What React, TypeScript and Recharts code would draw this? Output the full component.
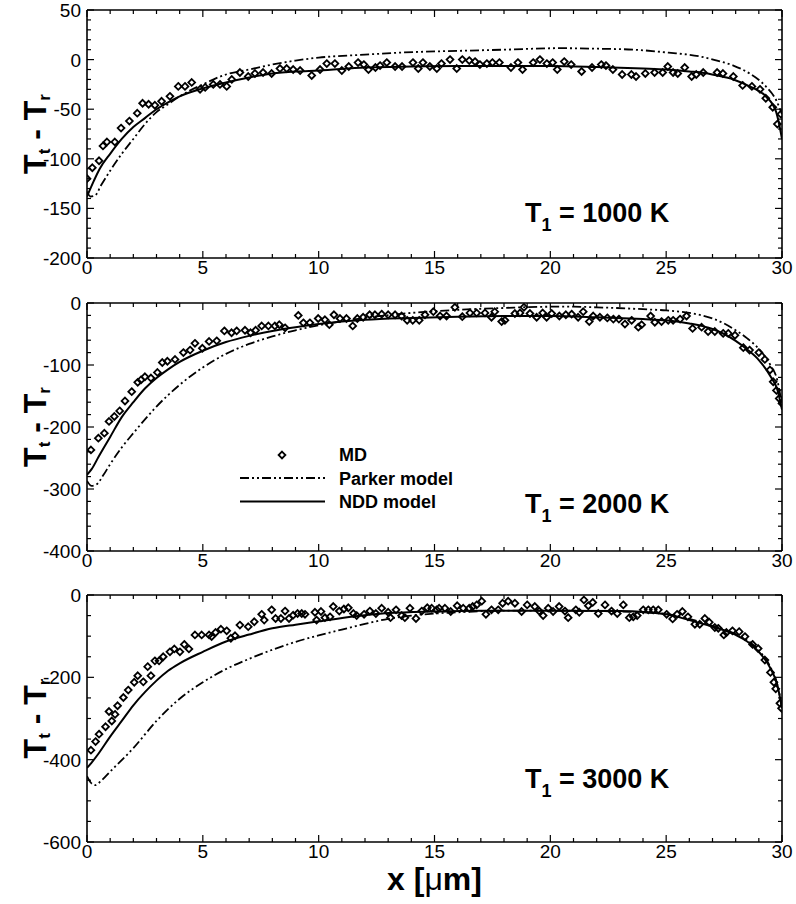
import React from 'react'
import { ComposedChart, Line, Scatter, XAxis, YAxis, ReferenceLine, Customized } from 'recharts'

type Pt = [number, number]

const FONT = "'Liberation Sans', Arial, Helvetica, sans-serif"
const PARKER_DASH = '9 3 2 3 2 3'

// x axis (micrometres)
const xMajor = [0, 5, 10, 15, 20, 25, 30]
const xTicks = [0, 1, 2, 3, 4, 5, 6, 7, 8, 9, 10, 11, 12, 13, 14, 15, 16, 17, 18, 19, 20, 21, 22, 23, 24, 25, 26, 27, 28, 29, 30]

// y axes
const yMajor1000 = [-200, -150, -100, -50, 0, 50]
const yTicks1000 = [-200, -190, -180, -170, -160, -150, -140, -130, -120, -110, -100, -90, -80, -70, -60, -50, -40, -30, -20, -10, 0, 10, 20, 30, 40, 50]
const yMajor2000 = [-400, -300, -200, -100, 0]
const yTicks2000 = [-400, -380, -360, -340, -320, -300, -280, -260, -240, -220, -200, -180, -160, -140, -120, -100, -80, -60, -40, -20, 0]
const yMajor3000 = [-600, -400, -200, 0]
const yTicks3000 = [-600, -550, -500, -450, -400, -350, -300, -250, -200, -150, -100, -50, 0]

// T1 = 1000 K
const md1000: Pt[] = [
  [0, -120], [0.23, -109], [0.52, -102], [0.69, -87], [0.86, -83], [1.2, -83], [1.47, -69], [1.83, -62], [2.17, -54], [2.4, -44],
  [2.66, -45], [2.93, -46], [3.22, -42], [3.58, -37], [3.94, -27], [4.23, -27], [4.52, -23], [4.88, -30], [5.1, -28], [5.45, -25],
  [5.74, -25], [6.03, -27], [6.25, -20], [6.6, -13], [6.96, -17], [7.25, -14], [7.6, -13], [7.97, -14], [8.33, -9], [8.62, -9],
  [8.9, -10], [9.2, -11], [9.7, -16], [10.06, -10], [10.35, -4], [10.7, -4], [11.0, -11], [11.3, -7], [11.7, -3], [11.95, -5],
  [12.15, -10], [12.45, -8], [12.65, -6], [12.94, -3], [13.3, -7], [13.6, -7], [14.07, -3], [14.3, -9], [14.5, -3], [14.8, -7],
  [15.1, -9], [15.3, -4], [15.67, 0], [15.96, -9], [16.2, 0], [16.5, -1], [16.75, -2], [16.96, -5], [17.26, -4], [17.5, -3],
  [17.8, -3], [18.3, -8], [18.6, -3], [18.8, -10], [19.26, -3], [19.55, 0], [19.85, -4], [20.1, -3], [20.3, -10], [20.6, -2],
  [20.9, -5], [21.35, -12], [21.8, -8], [22.2, -5], [22.4, -6], [22.7, -10], [23.1, -15], [23.5, -15], [23.7, -17], [24.1, -14],
  [24.5, -13], [24.85, -13], [25.07, -7], [25.3, -13], [25.5, -14], [25.8, -8], [26.1, -17], [26.3, -15], [26.6, -13], [27.2, -13],
  [27.45, -14], [27.9, -17], [28.3, -26], [28.7, -27], [29.05, -30], [29.3, -39], [29.6, -48], [29.8, -65], [29.95, -55],
]
const parker1000: Pt[] = [
  [0, -133], [0.15, -138], [0.35, -137], [0.6, -127], [1, -112], [1.5, -95], [2, -80], [2.5, -65], [3, -53], [3.5, -45],
  [4, -37], [5, -25], [6, -15], [7, -10], [8, -5], [9, -1], [10, 2], [12, 5], [13.5, 7], [16.3, 9], [18, 10], [20.4, 11.5],
  [22, 11], [23.6, 10], [25.1, 7], [26.5, 3], [27.2, -1], [27.9, -6], [28.6, -14], [29.3, -27], [29.75, -41], [30, -55],
]
const ndd1000: Pt[] = [
  [0, -138], [0.3, -122], [0.55, -110], [1, -95], [1.5, -80], [2, -68], [2.5, -59], [3, -50], [3.5, -43], [4, -37],
  [5, -29], [6, -23], [7, -18], [8, -14], [9, -12], [10, -11], [12, -8], [14, -7], [16, -6.5], [18, -6.5], [20, -6.5],
  [22, -7.5], [24, -9], [25, -10], [26, -12], [26.5, -13], [27.2, -16], [27.9, -20], [28.6, -27], [29.3, -37], [29.75, -53], [30, -80],
]

// T1 = 2000 K
const md2000: Pt[] = [
  [0.17, -237], [0.49, -218], [0.75, -210], [0.95, -191], [1.18, -183], [1.41, -174], [1.64, -158], [1.93, -143], [2.19, -128], [2.33, -124],
  [2.5, -119], [2.76, -121], [3.04, -112], [3.25, -96], [3.47, -94], [3.8, -91], [4.16, -80], [4.45, -76], [4.66, -65], [4.98, -73],
  [5.27, -62], [5.6, -61], [5.93, -45], [6.24, -48], [6.46, -45], [6.82, -44], [7.06, -48], [7.28, -44], [7.54, -37], [7.83, -37],
  [8.11, -37], [8.3, -35], [8.55, -40], [9.12, -20], [9.34, -32], [9.62, -32], [9.98, -25], [10.27, -27], [10.46, -35], [10.66, -19],
  [10.92, -25], [11.2, -25], [11.47, -37], [11.67, -25], [11.92, -23], [12.2, -19], [12.43, -19], [12.72, -18], [13.0, -19], [13.3, -19],
  [13.58, -21], [13.82, -28], [14.06, -28], [14.34, -28], [14.59, -19], [14.95, -14], [15.24, -21], [15.52, -21], [15.88, -7], [16.2, -22],
  [16.53, -16], [16.82, -16], [17.18, -16], [17.46, -23], [17.6, -14], [17.9, -30], [18.04, -28], [18.47, -17], [18.69, -16], [18.86, -7],
  [19.12, -17], [19.41, -23], [19.67, -16], [19.84, -23], [20.06, -17], [20.39, -21], [20.67, -19], [20.92, -18], [21.2, -23], [21.42, -14],
  [21.68, -30], [21.85, -21], [22.14, -23], [22.46, -24], [22.72, -26], [22.96, -26], [23.22, -34], [23.51, -28], [23.8, -39], [23.94, -35],
  [24.33, -21], [24.51, -31], [24.8, -30], [25.09, -28], [25.3, -28], [25.6, -26], [25.88, -21], [26.14, -41], [26.53, -39], [26.81, -46],
  [27.1, -46], [27.46, -49], [27.68, -49], [27.97, -52], [28.33, -72], [28.6, -76], [29.0, -80], [29.26, -91], [29.48, -108], [29.62, -127],
  [29.76, -141], [29.88, -154], [30, -162],
]
const parker2000: Pt[] = [
  [0, -287], [0.2, -295], [0.4, -293], [0.7, -278], [1, -260], [1.5, -233], [2, -210], [3, -167], [4, -132], [5, -104],
  [6, -82], [7, -66], [8, -54], [9, -44], [10, -36], [12, -24], [14, -16], [16, -11], [18, -8], [20, -6], [21, -6],
  [22, -7], [24, -10], [25, -12], [26, -16], [27, -25], [27.5, -33], [28, -44], [28.5, -57], [29, -74], [29.5, -100], [29.8, -125], [30, -165],
]
const ndd2000: Pt[] = [
  [0, -277], [0.2, -268], [0.5, -248], [1, -216], [1.5, -184], [2, -160], [2.5, -138], [3, -121], [3.5, -107], [4, -95],
  [5, -77], [6, -63], [7, -53], [8, -45], [9, -39], [10, -34], [12, -27], [14, -24], [16, -22], [18, -21], [20, -21],
  [22, -23], [24, -26], [25, -28], [26, -33], [27, -42], [27.5, -50], [28, -61], [28.5, -75], [29, -92], [29.5, -118], [29.8, -140], [30, -172],
]

// T1 = 3000 K
const md3000: Pt[] = [
  [0.17, -377], [0.37, -356], [0.52, -338], [0.8, -320], [0.95, -283], [1.07, -306], [1.21, -290], [1.32, -269], [1.57, -249], [1.78, -231],
  [2.04, -212], [2.19, -196], [2.43, -211], [2.62, -174], [2.76, -196], [2.93, -160], [3.11, -160], [3.29, -150], [3.58, -138], [3.77, -131],
  [4.01, -138], [4.2, -120], [4.4, -131], [4.66, -97], [4.95, -97], [5.27, -97], [5.38, -101], [5.55, -91], [5.78, -83], [6.03, -87],
  [6.21, -105], [6.39, -99], [6.6, -73], [6.96, -77], [7.22, -65], [7.54, -47], [7.65, -61], [7.97, -36], [8.14, -57], [8.37, -57],
  [8.55, -39], [8.72, -57], [8.9, -49], [9.09, -45], [9.27, -45], [9.41, -47], [9.84, -42], [9.91, -61], [10.1, -40], [10.27, -55],
  [10.49, -53], [10.63, -28], [10.89, -39], [11.09, -34], [11.28, -31], [11.5, -45], [11.64, -50], [11.96, -47], [12.21, -39], [12.47, -45],
  [12.72, -32], [13.0, -42], [13.1, -55], [13.34, -36], [13.58, -50], [13.72, -55], [13.94, -32], [14.2, -57], [14.45, -39], [14.69, -31],
  [14.88, -32], [15.09, -36], [15.2, -32], [15.45, -32], [15.7, -40], [15.98, -26], [16.24, -32], [16.5, -32], [16.65, -28], [16.82, -24],
  [17.04, -15], [17.22, -47], [17.46, -36], [17.75, -36], [17.94, -20], [18.18, -15], [18.47, -20], [18.76, -40], [19.0, -24], [19.33, -28],
  [19.52, -39], [19.69, -50], [19.91, -32], [20.12, -40], [20.38, -28], [20.63, -39], [20.77, -55], [21.1, -36], [21.25, -42], [21.45, -12],
  [21.64, -26], [21.83, -18], [22.07, -45], [22.36, -24], [22.64, -39], [22.89, -45], [23.15, -24], [23.41, -55], [23.58, -53], [23.75, -50],
  [24.01, -36], [24.23, -36], [24.44, -36], [24.66, -36], [25.02, -47], [25.28, -58], [25.47, -47], [25.7, -40], [25.94, -53], [26.24, -71],
  [26.45, -71], [26.67, -57], [26.86, -66], [27.1, -79], [27.25, -81], [27.49, -97], [27.6, -91], [27.86, -87], [28.15, -89], [28.4, -101],
  [28.73, -120], [28.97, -130], [29.26, -158], [29.5, -188], [29.65, -212], [29.73, -228], [29.91, -263], [29.98, -275],
]
const parker3000: Pt[] = [
  [0, -440], [0.15, -455], [0.35, -462], [0.6, -452], [1, -429], [2, -372], [3, -306], [4, -252], [5, -212], [6, -180],
  [7, -155], [8, -133], [9, -114], [10, -98], [11, -84], [12, -70], [13, -58], [14, -50], [15, -45], [16, -42], [18, -38],
  [20, -38], [22, -39], [24, -42], [25, -46], [26, -58], [27, -75], [28, -95], [28.5, -110], [29, -135], [29.5, -175], [29.8, -218], [30, -272],
]
const ndd3000: Pt[] = [
  [0, -420], [0.2, -407], [0.5, -385], [1, -344], [1.5, -306], [2, -268], [2.5, -236], [3, -208], [3.5, -184], [4, -166],
  [5, -138], [6, -113], [7, -96], [8, -81], [9, -72], [10, -64], [11.5, -52], [13, -44], [15, -40], [17, -38], [20, -38],
  [23, -39], [25, -47], [26, -61], [27, -77], [28, -97], [28.5, -113], [29, -138], [29.5, -178], [29.8, -219], [30, -275],
]

const toRows = (pts: Pt[]) => pts.map(([x, y]) => ({ x, y }))

const PLOT_LEFT = 87
const PLOT_RIGHT = 782
const CHART_W = 796

function Diamond(p: any) {
  const { cx, cy } = p
  if (cx == null || cy == null) return null
  const r = 3.4
  return (
    <path
      d={`M${cx},${cy - r}L${cx + r},${cy}L${cx},${cy + r}L${cx - r},${cy}Z`}
      fill="none"
      stroke="#000"
      strokeWidth={1.8}
    />
  )
}

interface PanelProps {
  top: number
  height: number
  plotTop: number
  plotBottom: number
  yDomain: [number, number]
  yTicks: number[]
  yMajor: number[]
  md: Pt[]
  parker: Pt[]
  ndd: Pt[]
  temp: string
  tempY: number
  legend?: boolean
  xTitle?: boolean
}

function Panel(props: PanelProps) {
  const { top, height, plotTop, plotBottom, yDomain, yTicks, yMajor, md, parker, ndd, temp, tempY, legend, xTitle } = props
  const xAxisH = 28
  const midY = (plotTop + plotBottom) / 2

  const xTick = (p: any) => {
    const { x, y, payload } = p
    const major = xMajor.includes(payload.value)
    const len = major ? 7 : 4
    return (
      <g>
        <line x1={x} y1={y} x2={x} y2={y - len} stroke="#000" strokeWidth={1.2} />
        <line x1={x} y1={plotTop} x2={x} y2={plotTop + len} stroke="#000" strokeWidth={1.2} />
        {major && (
          <text x={x} y={y + 16} textAnchor="middle" fontSize={19} fontFamily={FONT} fill="#000">
            {payload.value}
          </text>
        )}
      </g>
    )
  }

  const yTick = (p: any) => {
    const { x, y, payload } = p
    const major = yMajor.includes(payload.value)
    const len = major ? 7 : 4
    return (
      <g>
        <line x1={x} y1={y} x2={x + len} y2={y} stroke="#000" strokeWidth={1.2} />
        <line x1={PLOT_RIGHT} y1={y} x2={PLOT_RIGHT - len} y2={y} stroke="#000" strokeWidth={1.2} />
        {major && (
          <text x={x - 6} y={y + 7} textAnchor="end" fontSize={19} fontFamily={FONT} fill="#000">
            {payload.value}
          </text>
        )}
      </g>
    )
  }

  const overlay = () => (
    <g fontFamily={FONT} fill="#000">
      <text
        transform={`translate(46, ${midY}) rotate(-90)`}
        textAnchor="middle"
        fontSize={32}
        fontWeight="bold"
      >
        T<tspan fontSize={17} dy={4}>t</tspan>
        <tspan dy={-4}> - T</tspan>
        <tspan fontSize={17} dy={4}>r</tspan>
      </text>
      <text x={525} y={tempY} fontSize={27} fontWeight="bold">
        T<tspan fontSize={18} dy={9}>1</tspan>
        <tspan dy={-9}>{` = ${temp}`}</tspan>
      </text>
      {legend && (
        <g>
          <Diamond cx={282} cy={165} />
          <text x={339} y={171} fontSize={18} fontWeight="bold">MD</text>
          <line x1={240} y1={188} x2={325} y2={188} stroke="#000" strokeWidth={1.8} strokeDasharray={PARKER_DASH} />
          <text x={339} y={195} fontSize={18} fontWeight="bold">Parker model</text>
          <line x1={240} y1={211.5} x2={325} y2={211.5} stroke="#000" strokeWidth={2} />
          <text x={339} y={218} fontSize={18} fontWeight="bold">NDD model</text>
        </g>
      )}
      {xTitle && (
        <text x={(PLOT_LEFT + PLOT_RIGHT) / 2} y={plotBottom + 48} textAnchor="middle" fontSize={32} fontWeight="bold">
          x [<tspan fontWeight="normal">μ</tspan>m]
        </text>
      )}
    </g>
  )

  return (
    <div style={{ position: 'absolute', left: 0, top }}>
      <ComposedChart
        width={CHART_W}
        height={height}
        margin={{ top: plotTop, right: CHART_W - PLOT_RIGHT, left: PLOT_LEFT - 80, bottom: height - plotBottom - xAxisH }}
      >
        <XAxis
          dataKey="x"
          type="number"
          domain={[0, 30]}
          ticks={xTicks}
          interval={0}
          allowDataOverflow
          height={xAxisH}
          tickSize={0}
          tickMargin={0}
          tickLine={false}
          tick={xTick}
          axisLine={{ stroke: '#000', strokeWidth: 1.6 }}
        />
        <YAxis
          dataKey="y"
          type="number"
          domain={yDomain}
          ticks={yTicks}
          interval={0}
          allowDataOverflow
          width={80}
          tickSize={0}
          tickMargin={0}
          tickLine={false}
          tick={yTick}
          axisLine={{ stroke: '#000', strokeWidth: 1.6 }}
        />
        <ReferenceLine y={yDomain[1]} stroke="#000" strokeWidth={1.6} />
        <ReferenceLine x={30} stroke="#000" strokeWidth={1.6} />
        <Line
          data={toRows(parker)}
          dataKey="y"
          type="monotone"
          stroke="#000"
          strokeWidth={1.8}
          strokeDasharray={PARKER_DASH}
          dot={false}
          isAnimationActive={false}
        />
        <Line
          data={toRows(ndd)}
          dataKey="y"
          type="monotone"
          stroke="#000"
          strokeWidth={2}
          dot={false}
          isAnimationActive={false}
        />
        <Scatter data={toRows(md)} dataKey="y" shape={Diamond} isAnimationActive={false} />
        <Customized component={overlay} />
      </ComposedChart>
    </div>
  )
}

export default function App() {
  return (
    <div style={{ position: 'absolute', left: 0, top: 0, width: 796, height: 904, background: '#fff' }}>
      <Panel
        top={0} height={290} plotTop={10} plotBottom={258}
        yDomain={[-200, 50]} yTicks={yTicks1000} yMajor={yMajor1000}
        md={md1000} parker={parker1000} ndd={ndd1000}
        temp="1000 K" tempY={222}
      />
      <Panel
        top={290} height={290} plotTop={13} plotBottom={261}
        yDomain={[-400, 0]} yTicks={yTicks2000} yMajor={yMajor2000}
        md={md2000} parker={parker2000} ndd={ndd2000}
        temp="2000 K" tempY={223} legend
      />
      <Panel
        top={580} height={324} plotTop={15} plotBottom={262}
        yDomain={[-600, 0]} yTicks={yTicks3000} yMajor={yMajor3000}
        md={md3000} parker={parker3000} ndd={ndd3000}
        temp="3000 K" tempY={208} xTitle
      />
    </div>
  )
}
